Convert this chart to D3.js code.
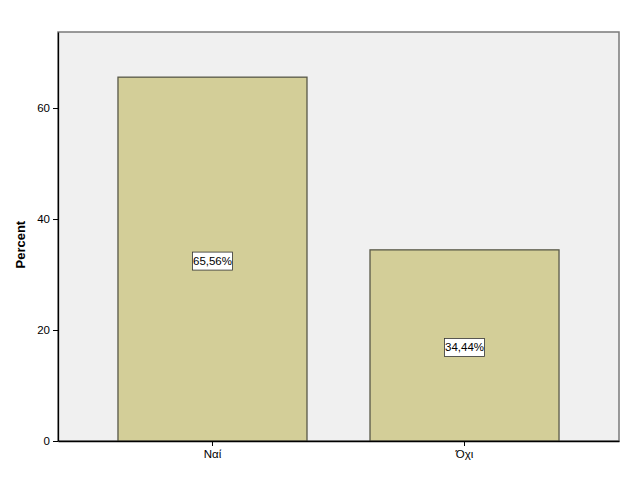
<!DOCTYPE html>
<html>
<head>
<meta charset="utf-8">
<script src="https://cdn.jsdelivr.net/npm/d3@7"></script>
<style>
  body { margin: 0; background: #fff; }
  text { font-family: Arial, 'Liberation Sans', sans-serif; }
</style>
</head>
<body>
<div id="chart"></div>
<script>
const categories = ['Ναί', 'Όχι']
const percents = [65.56, 34.44]
const valueLabels = ['65,56%', '34,44%']
const yTicks = [0, 20, 40, 60]

const margin = { top: 32, right: 7, bottom: 60, left: 58 }
const width = 626 - margin.left - margin.right
const height = 501 - margin.top - margin.bottom

const svg = d3
  .select('#chart')
  .append('svg')
  .attr('width', 626)
  .attr('height', 501)
  .append('g')
  .attr('transform', 'translate(' + margin.left + ',' + margin.top + ')')

const xPositionScale = d3
  .scaleBand()
  .domain(categories)
  .range([0, width])
  .paddingInner(0.25)
  .paddingOuter(0.238)

const yPositionScale = d3
  .scaleLinear()
  .domain([0, 73.7])
  .range([height, 0])

// plot background and frame
svg
  .append('rect')
  .attr('width', width)
  .attr('height', height)
  .attr('fill', '#f0f0f0')
  .attr('stroke', '#7a7a7a')
  .attr('stroke-width', 1.5)

svg
  .selectAll('.bar')
  .data(percents)
  .enter()
  .append('rect')
  .attr('class', 'bar')
  .attr('x', (d, i) => xPositionScale(categories[i]))
  .attr('y', d => yPositionScale(d))
  .attr('width', xPositionScale.bandwidth())
  .attr('height', d => height - yPositionScale(d))
  .attr('fill', '#d3ce98')
  .attr('stroke', '#585848')
  .attr('stroke-width', 1.3)

// value labels in boxes
const labels = svg
  .selectAll('.vlabel')
  .data(percents)
  .enter()
  .append('g')
  .attr('class', 'vlabel')
  .attr('transform', (d, i) => {
    const cx = xPositionScale(categories[i]) + xPositionScale.bandwidth() / 2
    const cy = (yPositionScale(d) + height) / 2 + 2
    return 'translate(' + cx + ',' + cy + ')'
  })

labels
  .append('rect')
  .attr('x', -20)
  .attr('y', -9)
  .attr('width', 40)
  .attr('height', 18)
  .attr('fill', '#fff')
  .attr('stroke', '#333')
  .attr('stroke-width', 0.8)

labels
  .append('text')
  .attr('text-anchor', 'middle')
  .attr('dy', '0.35em')
  .attr('font-size', 11.5)
  .attr('fill', '#000')
  .text((d, i) => valueLabels[i])

const yAxis = d3
  .axisLeft(yPositionScale)
  .tickValues(yTicks)
  .tickSize(5)
  .tickSizeOuter(0)
  .tickPadding(3)

const yG = svg.append('g').attr('class', 'axis y-axis').call(yAxis)
yG.select('.domain').attr('stroke', '#000').attr('stroke-width', 1.3)
yG.selectAll('.tick text').attr('font-size', 11.5).attr('fill', '#000').style('font-family', 'Arial, Liberation Sans, sans-serif')
yG.selectAll('.tick line').attr('stroke', '#000')

const xAxis = d3.axisBottom(xPositionScale).tickSize(5).tickSizeOuter(0).tickPadding(4)

const xG = svg
  .append('g')
  .attr('class', 'axis x-axis')
  .attr('transform', 'translate(0,' + height + ')')
  .call(xAxis)
xG.select('.domain').attr('stroke', '#000').attr('stroke-width', 1.3)
xG.selectAll('.tick text').attr('font-size', 11.5).attr('fill', '#000').style('font-family', 'Arial, Liberation Sans, sans-serif')
xG.selectAll('.tick line').attr('stroke', '#000')

svg
  .append('text')
  .attr('transform', 'translate(' + (-33) + ',' + height * 0.52 + ') rotate(-90)')
  .attr('text-anchor', 'middle')
  .attr('font-size', 13)
  .attr('font-weight', 'bold')
  .attr('fill', '#000')
  .text('Percent')
</script>
</body>
</html>
